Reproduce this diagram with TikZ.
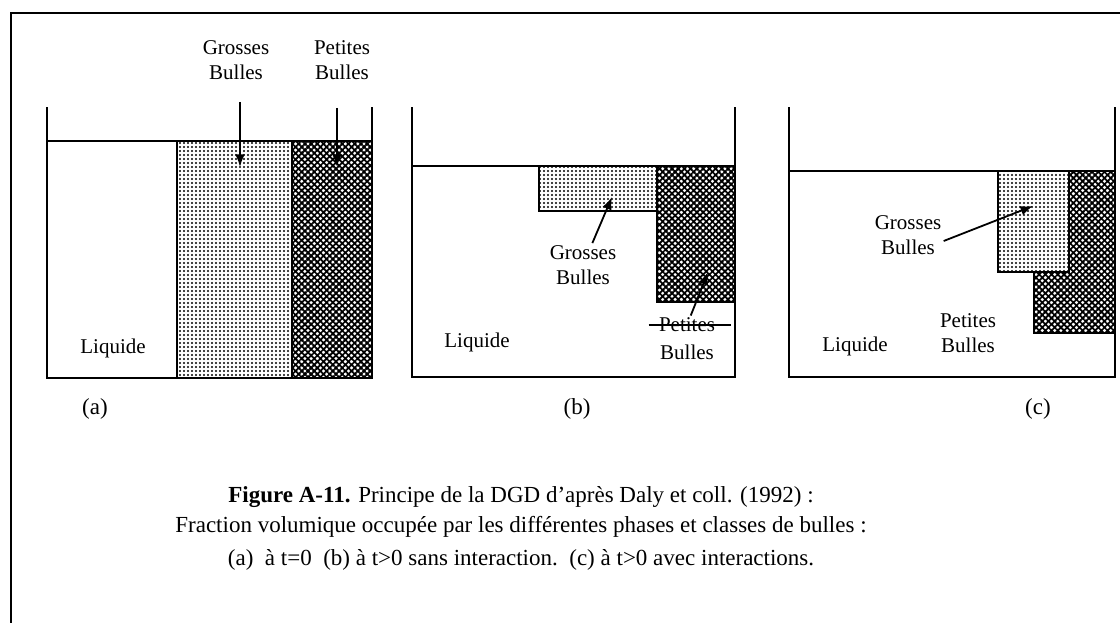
\documentclass[tikz,border=0pt]{standalone}
\usepackage{fontspec}
\setmainfont{Liberation Serif}
\usetikzlibrary{arrows.meta,patterns.meta}

\begin{document}
\begin{tikzpicture}[
    x=0.5pt, y=-0.5pt,
    wall/.style={line width=1pt},
    grosses/.style={draw, line width=0.8pt, preaction={fill=white}, pattern={Dots[distance=2pt, radius=0.6pt]}},
    petites/.style={draw, line width=0.8pt, preaction={fill=white}, pattern={Lines[angle=45, distance=2.2pt, line width=0.9pt]}, postaction={pattern={Lines[angle=-45, distance=2.2pt, line width=0.9pt]}}},
    lbl/.style={align=center, inner sep=1pt, font=\fontsize{10.5}{12.5}\selectfont},
    captext/.style={inner sep=0pt, font=\fontsize{11.5}{13}\selectfont},
    arr/.style={-{Latex[length=2.2mm, width=1.7mm]}, line width=0.9pt}
]
\useasboundingbox (0,0) rectangle (1120,623);
\draw[line width=1.2pt] (1120,13) -| (11,623);

% (a) t=0
\draw[grosses] (177,141) rectangle (292,378);
\draw[petites] (292,141) rectangle (372,378);
\draw[wall] (47,107) |- (372,378) -- (372,107);
\draw[wall] (47,141) -- (372,141);
\node[lbl] (gbA) at (236,60) {Grosses\\Bulles};
\node[lbl] (pbA) at (342,60) {Petites\\Bulles};
\node[lbl] (liqA) at (113,348) {Liquide};
\node[captext] (tagA) at (95,409) {(a)};
\coordinate (gbAtip) at (240,167);
\coordinate (pbAtip) at (337,167);
\draw[arr, shorten <=10pt] (gbA.south -| gbAtip) -- (gbAtip);
\draw[arr, shorten <=13pt] (pbA.south -| pbAtip) -- (pbAtip);

% (b) t>0 sans interaction
\draw[grosses] (539,166) rectangle (657,211);
\draw[petites] (657,166) rectangle (735,302);
\draw[wall] (412,107) |- (735,377) -- (735,107);
\draw[wall] (412,166) -- (735,166);
\node[lbl] (gbB) at (583,265) {Grosses\\Bulles};
\node[lbl] (pbB1) at (687,325) {Petites};
\node[lbl] (pbB2) at (687,352) {Bulles};
\node[lbl] (liqB) at (477,342) {Liquide};
\node[captext] (tagB) at (577,409) {(b)};
\coordinate (gbBtip) at (612,197);
\coordinate (pbBtip) at (708,272);
\draw[arr] (gbB) -- (gbBtip);
\draw[arr] (pbB1) -- (pbBtip);
\draw[line width=0.7pt] ([xshift=-4pt]pbB1.west) -- ([xshift=7pt]pbB1.east);

% (c) t>0 avec interactions
\draw[petites] (1034,171) rectangle (1115,333);
\draw[grosses] (998,171) rectangle (1069,272);
\draw[wall] (789,107) |- (1115,377) -- (1115,107);
\draw[wall] (789,171) -- (1115,171);
\node[lbl] (gbC) at (908,235) {Grosses\\Bulles};
\node[lbl] (pbC) at (968,333) {Petites\\Bulles};
\node[lbl] (liqC) at (855,346) {Liquide};
\node[captext] (tagC) at (1038,409) {(c)};
\coordinate (gbCtip) at (1033,206);
\draw[arr] ([yshift=-3pt]gbC.east) -- (gbCtip);

% legende
\node[captext] (cap1) at (521,497) {\textbf{Figure A-11.} Principe de la DGD d’après Daly et coll. (1992) :};
\node[captext] (cap2) at (521,527) {Fraction volumique occupée par les différentes phases et classes de bulles :};
\node[captext] (cap3) at (521,560) {(a)\enspace à t=0\enspace (b) à t>0 sans interaction.\enspace (c) à t>0 avec interactions.};
\end{tikzpicture}
\end{document}
